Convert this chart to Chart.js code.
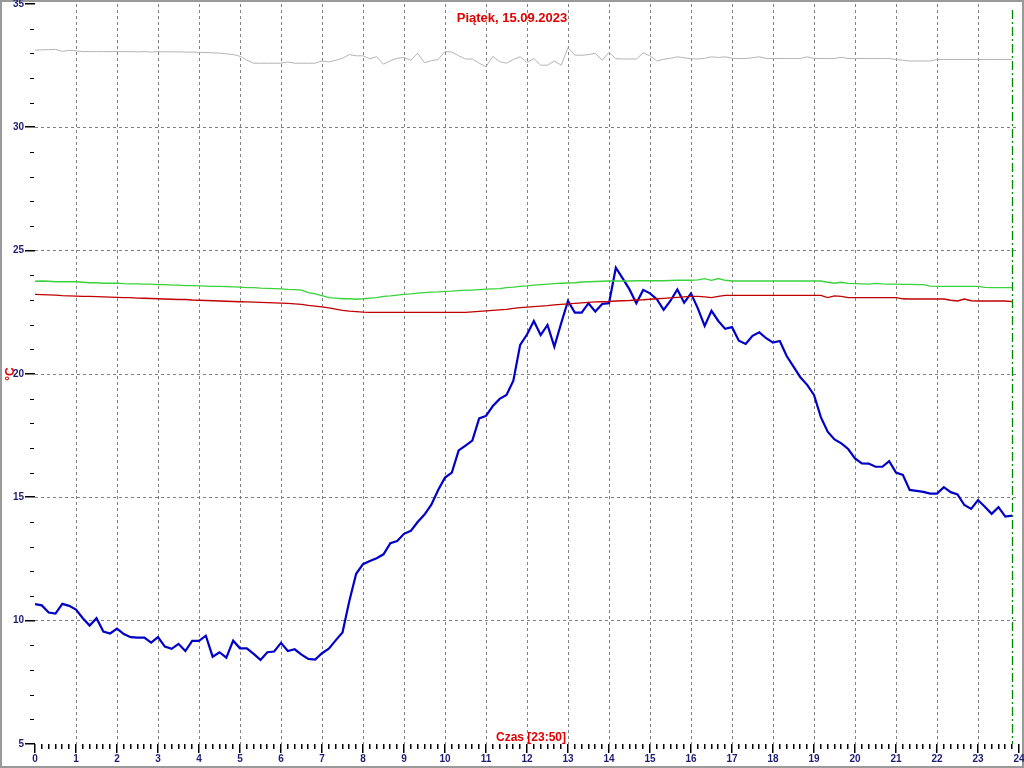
<!DOCTYPE html>
<html>
<head>
<meta charset="utf-8">
<title>Piątek, 15.09.2023</title>
<script src="https://cdn.jsdelivr.net/npm/chart.js@4.4.0/dist/chart.umd.min.js"></script>
<style>
  html, body { margin: 0; padding: 0; background: #fff; }
  canvas { display: block; }
</style>
</head>
<body>
<canvas id="wykres" width="1024" height="768"></canvas>
<script>
// Odczyty co 10 minut, od 0:00 do 23:50
const KROK_MIN = 10;

const TYTUL = 'Piątek, 15.09.2023';
const OPIS_X = 'Czas [23:50]';
const OPIS_Y = '°C';
const GODZ_TERAZ = 23 + 50 / 60;

const X_TICKI = [0, 1, 2, 3, 4, 5, 6, 7, 8, 9, 10, 11, 12, 13, 14, 15, 16, 17, 18, 19, 20, 21, 22, 23, 24];
const Y_TICKI = [5, 10, 15, 20, 25, 30, 35];

// szara - najwyzsza temperatura
const tempSzara = [
  33.13, 33.14, 33.15, 33.16, 33.08, 33.12, 33.10, 33.07, 33.07, 33.07,
  33.07, 33.07, 33.07, 33.07, 33.07, 33.06, 33.07, 33.05, 33.07, 33.06,
  33.06, 33.06, 33.05, 33.05, 33.04, 33.03, 33.02, 33.01, 32.98, 32.95,
  32.88, 32.72, 32.60, 32.60, 32.60, 32.60, 32.60, 32.65, 32.60, 32.60,
  32.60, 32.60, 32.69, 32.65, 32.72, 32.80, 32.95, 32.90, 32.90, 32.78,
  32.86, 32.56, 32.70, 32.80, 32.83, 32.72, 33.00, 32.62, 32.70, 32.75,
  33.07, 33.05, 32.90, 32.77, 32.77, 32.60, 32.46, 32.88, 32.66, 32.60,
  32.75, 32.86, 32.63, 32.79, 32.52, 32.52, 32.69, 32.52, 33.23, 32.93,
  32.92, 32.95, 33.00, 32.72, 33.04, 32.78, 32.77, 32.77, 32.77, 33.02,
  32.90, 32.69, 32.76, 32.80, 32.86, 32.82, 32.78, 32.77, 32.80, 32.86,
  32.83, 32.86, 32.80, 32.79, 32.79, 32.82, 32.86, 32.79, 32.79, 32.79,
  32.79, 32.79, 32.79, 32.86, 32.79, 32.79, 32.79, 32.79, 32.84, 32.79,
  32.79, 32.79, 32.79, 32.79, 32.79, 32.79, 32.75, 32.72, 32.69, 32.69,
  32.69, 32.69, 32.75, 32.75, 32.75, 32.75, 32.75, 32.75, 32.75, 32.75,
  32.75, 32.75, 32.75, 32.75
];

// zielona
const tempZielona = [
  23.76, 23.77, 23.76, 23.74, 23.74, 23.74, 23.74, 23.72, 23.70, 23.70,
  23.68, 23.68, 23.68, 23.66, 23.65, 23.65, 23.64, 23.64, 23.62, 23.62,
  23.60, 23.60, 23.58, 23.58, 23.57, 23.56, 23.55, 23.55, 23.54, 23.53,
  23.52, 23.50, 23.50, 23.48, 23.47, 23.46, 23.45, 23.43, 23.42, 23.40,
  23.30, 23.25, 23.18, 23.10, 23.08, 23.05, 23.05, 23.03, 23.05, 23.08,
  23.10, 23.15, 23.17, 23.20, 23.23, 23.25, 23.28, 23.30, 23.32, 23.33,
  23.35, 23.36, 23.38, 23.40, 23.40, 23.42, 23.44, 23.45, 23.46, 23.50,
  23.52, 23.55, 23.57, 23.60, 23.62, 23.64, 23.66, 23.68, 23.69, 23.70,
  23.73, 23.74, 23.75, 23.76, 23.77, 23.77, 23.77, 23.77, 23.78, 23.78,
  23.78, 23.78, 23.78, 23.79, 23.80, 23.80, 23.80, 23.82, 23.87, 23.80,
  23.87, 23.80, 23.77, 23.77, 23.77, 23.77, 23.77, 23.77, 23.77, 23.77,
  23.77, 23.77, 23.77, 23.77, 23.77, 23.77, 23.72, 23.68, 23.72, 23.67,
  23.66, 23.65, 23.64, 23.67, 23.65, 23.64, 23.64, 23.63, 23.63, 23.62,
  23.62, 23.56, 23.55, 23.55, 23.55, 23.55, 23.55, 23.55, 23.55, 23.51,
  23.50, 23.50, 23.50, 23.50
];

// czerwona
const tempCzerwona = [
  23.23, 23.22, 23.21, 23.20, 23.18, 23.17, 23.16, 23.15, 23.15, 23.14,
  23.13, 23.12, 23.11, 23.10, 23.10, 23.08, 23.07, 23.06, 23.05, 23.04,
  23.03, 23.02, 23.02, 23.00, 22.99, 22.98, 22.97, 22.96, 22.95, 22.94,
  22.93, 22.92, 22.91, 22.90, 22.89, 22.88, 22.87, 22.86, 22.84, 22.82,
  22.78, 22.75, 22.72, 22.68, 22.63, 22.58, 22.55, 22.53, 22.51, 22.50,
  22.50, 22.50, 22.50, 22.50, 22.50, 22.50, 22.50, 22.50, 22.50, 22.50,
  22.50, 22.50, 22.50, 22.50, 22.52, 22.54, 22.56, 22.58, 22.60, 22.62,
  22.66, 22.69, 22.71, 22.73, 22.75, 22.77, 22.80, 22.82, 22.84, 22.86,
  22.88, 22.90, 22.92, 22.93, 22.94, 22.96, 22.97, 22.98, 23.00, 23.01,
  23.03, 23.05, 23.07, 23.09, 23.11, 23.13, 23.15, 23.15, 23.13, 23.10,
  23.15, 23.19, 23.19, 23.19, 23.19, 23.19, 23.19, 23.19, 23.19, 23.19,
  23.19, 23.19, 23.19, 23.19, 23.19, 23.19, 23.10, 23.17, 23.15, 23.10,
  23.10, 23.10, 23.10, 23.10, 23.10, 23.10, 23.10, 23.05, 23.04, 23.04,
  23.04, 23.04, 23.04, 23.04, 22.99, 22.96, 23.04, 22.97, 22.96, 22.96,
  22.96, 22.96, 22.96, 22.93
];

// niebieska - temperatura zewnetrzna
const tempNiebieska = [
  10.67, 10.62, 10.33, 10.29, 10.68, 10.60, 10.45, 10.10, 9.80, 10.10,
  9.56, 9.48, 9.68, 9.46, 9.33, 9.31, 9.31, 9.11, 9.33, 8.95,
  8.86, 9.06, 8.77, 9.18, 9.18, 9.39, 8.54, 8.72, 8.50, 9.19,
  8.88, 8.88, 8.65, 8.41, 8.72, 8.75, 9.10, 8.77, 8.84, 8.62,
  8.45, 8.42, 8.68, 8.86, 9.20, 9.52, 10.80, 11.90, 12.29, 12.42,
  12.53, 12.69, 13.14, 13.23, 13.52, 13.64, 14.00, 14.30, 14.70, 15.30,
  15.80, 16.00, 16.90, 17.10, 17.30, 18.20, 18.30, 18.70, 18.99, 19.15,
  19.73, 21.18, 21.60, 22.15, 21.58, 21.99, 21.11, 22.06, 22.96, 22.49,
  22.49, 22.87, 22.53, 22.84, 22.87, 24.31, 23.88, 23.43, 22.87, 23.41,
  23.27, 23.03, 22.60, 22.97, 23.43, 22.89, 23.27, 22.66, 21.95, 22.56,
  22.15, 21.83, 21.90, 21.35, 21.22, 21.55, 21.69, 21.45, 21.27, 21.34,
  20.73, 20.30, 19.87, 19.56, 19.15, 18.25, 17.66, 17.35, 17.19, 16.96,
  16.58, 16.38, 16.37, 16.24, 16.24, 16.47, 16.00, 15.91, 15.30, 15.26,
  15.22, 15.15, 15.15, 15.41, 15.21, 15.12, 14.69, 14.53, 14.89, 14.62,
  14.33, 14.60, 14.22, 14.26
];

const KOLOR_TICK = '#1c1c74';
const KOLOR_CZERW = '#e00000';
const KOLOR_SIATKA = '#808080';

function punkty(wartosci) {
  return wartosci.map((v, i) => ({ x: i * KROK_MIN / 60, y: v }));
}

function seria(wartosci, kolor, grubosc) {
  return {
    data: punkty(wartosci),
    borderColor: kolor,
    borderWidth: grubosc,
    pointRadius: 0,
    tension: 0,
    fill: false
  };
}

// ramka pod wszystkim, zeby nie zaslaniala podpisow
const ramka = {
  id: 'ramka',
  beforeDraw(chart) {
    const c = chart.ctx;
    c.save();
    c.strokeStyle = '#9a9a9a';
    c.lineWidth = 2;
    c.strokeRect(1, 1, chart.width - 2, chart.height - 2);
    c.restore();
  }
};

// podpisy, kreski na osiach, linia "teraz"
const dodatki = {
  id: 'dodatki',
  afterDraw(chart) {
    const c = chart.ctx;
    const xs = chart.scales.x;
    const ys = chart.scales.y;
    const ca = chart.chartArea;
    c.save();

    // linia aktualnej godziny
    const xt = Math.round(xs.getPixelForValue(GODZ_TERAZ)) + 0.5;
    c.strokeStyle = '#008a00';
    c.lineWidth = 1.3;
    c.setLineDash([9, 3, 2, 3]);
    c.beginPath();
    c.moveTo(xt, ca.top + 6);
    c.lineTo(xt, ca.bottom);
    c.stroke();
    c.setLineDash([]);

    // kreski osi X co 10 minut
    c.fillStyle = '#000';
    for (let m = 0; m <= 24 * 60; m += KROK_MIN) {
      const px = Math.round(xs.getPixelForValue(m / 60));
      const duza = m % 60 === 0;
      c.fillRect(px - 1, ca.bottom, 1.5, duza ? 9 : 5);
    }
    // kreski osi Y co 1 stopien
    for (let v = 5; v <= 35; v++) {
      const py = Math.round(ys.getPixelForValue(v));
      if (v % 5 === 0) {
        c.fillRect(ca.left - 10, py - 1, 10, 1.5);
      } else {
        c.fillRect(ca.left - 5, py, 4, 1);
      }
    }

    // tytul
    c.fillStyle = KOLOR_CZERW;
    c.font = 'bold 13px "Liberation Sans", Arial, sans-serif';
    c.textAlign = 'center';
    c.textBaseline = 'alphabetic';
    c.fillText(TYTUL, 512, 22);

    // opis osi X
    c.font = 'bold 12px "Liberation Sans", Arial, sans-serif';
    c.fillText(OPIS_X, 531, 741);

    // opis osi Y
    c.translate(14, 374);
    c.rotate(-Math.PI / 2);
    c.font = 'bold 12px "Liberation Sans", Arial, sans-serif';
    c.fillText(OPIS_Y, 0, 0);
    c.restore();
  }
};

const czcionkaTick = { family: '"Liberation Sans", Arial, sans-serif', size: 10, weight: 'bold' };

new Chart(document.getElementById('wykres'), {
  type: 'line',
  data: {
    datasets: [
      seria(tempSzara, '#b4b4b4', 1),
      seria(tempZielona, '#3ad23a', 1.3),
      seria(tempCzerwona, '#c00000', 1.3),
      seria(tempNiebieska, '#0000c8', 2.2)
    ]
  },
  options: {
    responsive: false,
    animation: false,
    events: [],
    layout: { padding: { top: 4, right: 5, left: 0, bottom: 0 } },
    plugins: {
      legend: { display: false },
      tooltip: { enabled: false },
      title: { display: false }
    },
    scales: {
      x: {
        type: 'linear',
        min: 0,
        max: 24,
        afterFit: s => {
          s.height = 24;
          s.paddingLeft = 0;
          s.paddingRight = 0;
        },
        afterBuildTicks: s => { s.ticks = X_TICKI.map(v => ({ value: v })); },
        ticks: {
          color: KOLOR_TICK,
          font: czcionkaTick,
          padding: 9,
          maxRotation: 0,
          autoSkip: false
        },
        grid: {
          drawTicks: false,
          color: c => (c.tick && c.tick.value > 0 && c.tick.value < 24) ? KOLOR_SIATKA : 'rgba(0,0,0,0)',
          lineWidth: 1
        },
        border: { display: false, dash: [3, 3] }
      },
      y: {
        min: 5,
        max: 35,
        afterFit: s => {
          s.width = 35;
          s.paddingTop = 0;
          s.paddingBottom = 0;
        },
        afterBuildTicks: s => { s.ticks = Y_TICKI.map(v => ({ value: v })); },
        ticks: {
          color: KOLOR_TICK,
          font: czcionkaTick,
          padding: 11
        },
        grid: {
          drawTicks: false,
          color: c => (c.tick && c.tick.value > 5 && c.tick.value < 35) ? KOLOR_SIATKA : 'rgba(0,0,0,0)',
          lineWidth: 1
        },
        border: { display: false, dash: [3, 3] }
      }
    }
  },
  plugins: [ramka, dodatki]
});
</script>
</body>
</html>
